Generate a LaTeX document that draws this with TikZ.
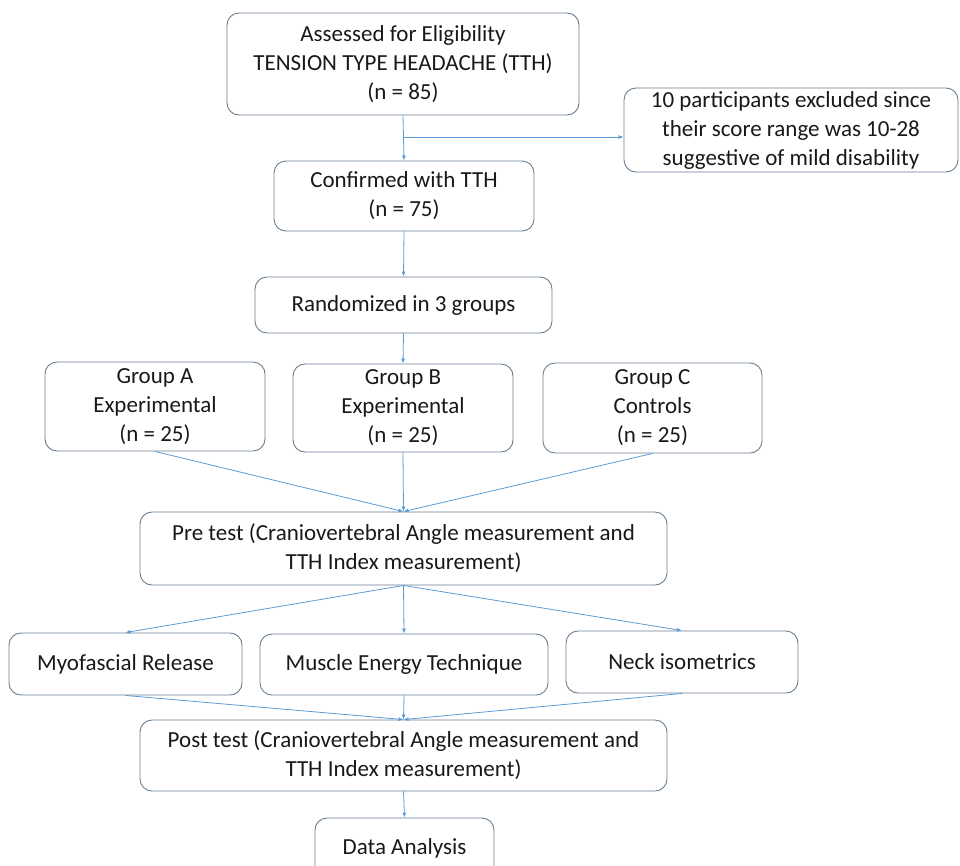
\documentclass[tikz,border=0pt]{standalone}
\usepackage{fontspec}
\setmainfont{Carlito}
\usetikzlibrary{arrows.meta,positioning}
\definecolor{boxGray}{RGB}{105,125,145}
\definecolor{flowBlue}{RGB}{91,155,213}
\definecolor{textDark}{RGB}{25,25,25}

\tikzset{
  flowbox/.style={draw=boxGray, line width=0.9pt, rounded corners=12pt,
    align=center, inner sep=0pt, text=textDark,
    font=\fontsize{23}{29}\selectfont},
  flowarrow/.style={draw=flowBlue, line width=0.8pt,
    -{Latex[length=5pt,width=4pt]}}
}

\begin{document}
\begin{tikzpicture}[x=1pt, y=-1pt]
    % Page frame
    \clip (0,0) rectangle (960,865);

    % Screening
    \node[flowbox, minimum width=352, minimum height=102] (assess) at (403,64)
        {Assessed for Eligibility\\TENSION TYPE HEADACHE (TTH)\\(n = 85)};
    \node[flowbox, minimum width=334, minimum height=84] (excl) at (791,130)
        {10 participants excluded since\\their score range was 10-28\\suggestive of mild disability};
    \node[flowbox, minimum width=260, minimum height=70] (confirm) at (404,196)
        {Confirmed with TTH\\(n = 75)};
    \node[flowbox, minimum width=297, minimum height=56] (random) at (403.5,305)
        {Randomized in 3 groups};

    % Groups
    \node[flowbox, minimum width=220, minimum height=89] (grpA) at (155,406.5)
        {Group A\\Experimental\\(n = 25)};
    \node[flowbox, minimum width=220, minimum height=88] (grpB) at (403,408)
        {Group B\\Experimental\\(n = 25)};
    \node[flowbox, minimum width=219, minimum height=90] (grpC) at (652.5,408)
        {Group C\\Controls\\(n = 25)};

    % Pre test
    \node[flowbox, minimum width=527, minimum height=73] (pre) at (403.5,548.5)
        {Pre test (Craniovertebral Angle measurement and\\TTH Index measurement)};

    % Interventions
    \node[flowbox, minimum width=233, minimum height=62] (myo) at (125.5,664)
        {Myofascial Release};
    \node[flowbox, minimum width=288, minimum height=61] (met) at (404,664.5)
        {Muscle Energy Technique};
    \node[flowbox, minimum width=232, minimum height=62] (neck) at (682,662)
        {Neck isometrics};

    % Post test and analysis
    \node[flowbox, minimum width=527, minimum height=71] (post) at (403.5,755.5)
        {Post test (Craniovertebral Angle measurement and\\TTH Index measurement)};
    \node[flowbox, minimum width=179, minimum height=60] (data) at (404.5,848)
        {Data Analysis};

    % Connectors
    \coordinate (split) at (404,137);
    \draw[flowarrow] (assess.south) -- (confirm.north);
    \draw[flowarrow] (split) -- (split -| excl.west);
    \draw[flowarrow] (confirm.south) -- (random.north);
    \draw[flowarrow] (random.south) -- (grpB.north);
    \foreach \g in {grpA, grpB, grpC} {
        \draw[flowarrow] (\g.south) -- (pre.north);
    }
    \foreach \t in {myo, met, neck} {
        \draw[flowarrow] (pre.south) -- (\t.north);
        \draw[flowarrow] (\t.south) -- (post.north);
    }
    \draw[flowarrow] (post.south) -- (data.north);

\end{tikzpicture}
\end{document}
